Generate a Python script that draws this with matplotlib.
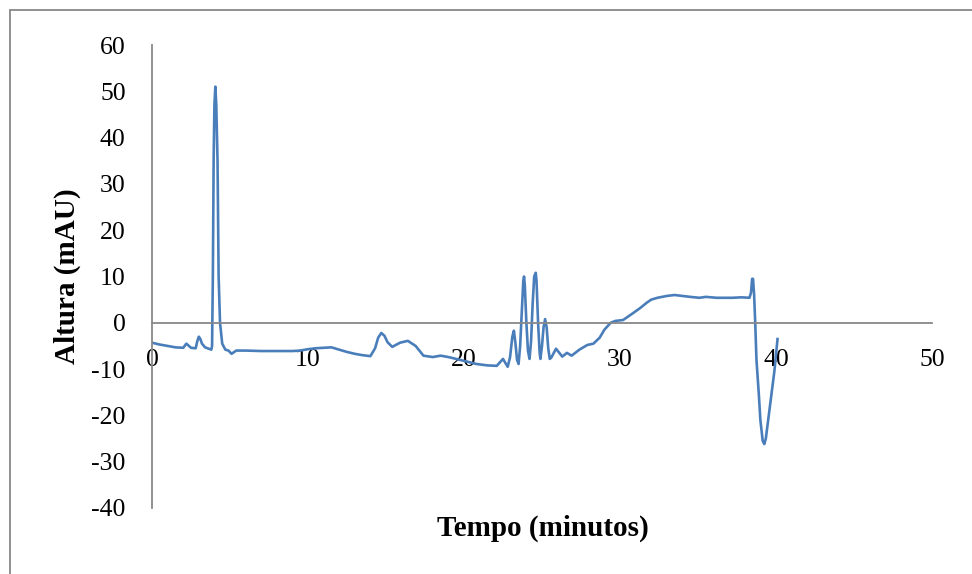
import matplotlib.pyplot as plt
from matplotlib.patches import Rectangle

# chromatogram trace
tempo = [0.0, 0.5, 1.0, 1.5, 2.0, 2.2, 2.5, 2.8, 2.9, 3.0, 3.1, 3.2, 3.4, 3.8, 3.85, 3.9, 3.95,
         4.0, 4.06, 4.12, 4.2, 4.27, 4.36, 4.5, 4.7, 4.9, 5.1, 5.4, 6.0,
         7.0, 8.0, 9.0, 9.5, 10.0, 10.5, 11.0, 11.5, 12.0, 12.5, 13.0, 13.5, 14.0,
         14.3, 14.5, 14.7, 14.9, 15.1, 15.4, 15.9, 16.4, 16.9, 17.4, 18.0, 18.5, 19.0, 19.5,
         20.2, 20.8, 21.5, 22.1, 22.5, 22.8, 22.95, 23.1, 23.2, 23.3, 23.4, 23.5,
         23.6, 23.7, 23.8, 23.85, 23.9, 24.0, 24.1, 24.2,
         24.3, 24.4, 24.5, 24.6, 24.65, 24.75, 24.85, 24.9,
         25.0, 25.1, 25.2, 25.3, 25.4, 25.5, 25.6, 25.9, 26.3,
         26.6, 26.9, 27.4, 27.9, 28.3, 28.7, 29.0, 29.4, 29.7, 30.2, 30.8, 31.3,
         31.7, 32.0, 32.4, 33.0, 33.5, 34.0, 34.5, 35.1, 35.5, 36.2, 37.2, 37.8,
         38.3, 38.4, 38.47, 38.53, 38.6, 38.67, 38.75, 38.9, 39.0, 39.15, 39.25, 39.35,
         39.6, 39.9, 40.1]
altura = [-4.3, -4.7, -5.0, -5.3, -5.4, -4.5, -5.4, -5.5, -4.0, -3.0, -3.5, -4.5, -5.3, -5.8, -5.0, 10.0, 35.0,
          47.0, 51.0, 47.0, 35.0, 10.0, 0.0, -4.5, -5.8, -6.0, -6.7, -6.0, -6.0,
          -6.1, -6.1, -6.1, -6.0, -5.7, -5.5, -5.4, -5.3, -5.8, -6.3, -6.7, -7.0, -7.2,
          -5.5, -3.2, -2.2, -2.8, -4.2, -5.2, -4.3, -3.9, -5.0, -7.1, -7.4, -7.1, -7.4, -7.8,
          -8.4, -8.9, -9.2, -9.3, -7.8, -9.5, -7.5, -3.0, -1.7, -4.5, -8.0, -8.9,
          -5.0, 2.0, 9.0, 10.0, 8.0, 0.0, -6.0, -7.8,
          -4.0, 4.0, 10.0, 10.8, 9.0, 0.0, -6.5, -7.8,
          -5.0, -1.0, 0.8, -1.0, -5.5, -7.8, -7.5, -5.6, -7.3,
          -6.5, -7.1, -5.8, -4.8, -4.5, -3.2, -1.5, 0.0, 0.4, 0.6, 2.0, 3.2,
          4.3, 5.0, 5.4, 5.8, 6.0, 5.8, 5.6, 5.4, 5.6, 5.4, 5.4, 5.5,
          5.4, 6.5, 9.5, 9.5, 6.0, 0.0, -8.0, -15.4, -21.0, -25.5, -26.2, -25.0,
          -18.4, -10.4, -3.5]

x_ticks = [0, 10, 20, 30, 40, 50]
y_ticks = [-40, -30, -20, -10, 0, 10, 20, 30, 40, 50, 60]

plt.rcParams['font.family'] = ['Liberation Serif', 'DejaVu Serif']
plt.rcParams['axes.unicode_minus'] = False

fig = plt.figure(figsize=(9.72, 5.74), dpi=100)
ax = fig.add_axes([0.1564, 0.115, 0.8024, 0.8066])

ax.plot(tempo, altura, color="#4A7EBB", linewidth=1.9)

ax.set_xlim(0, 50)
ax.set_ylim(-40, 60)
ax.set_xticks(x_ticks)
ax.set_yticks(y_ticks)

for side in ["top", "right"]:
    ax.spines[side].set_visible(False)
ax.spines["bottom"].set_position(("data", 0))
ax.spines["left"].set_position(("data", 0))
for side in ["bottom", "left"]:
    ax.spines[side].set_color("#888888")
    ax.spines[side].set_linewidth(1.3)

ax.tick_params(axis="x", length=0, pad=19, labelsize=18.5)
ax.tick_params(axis="y", length=0, pad=19, labelsize=18.5)

fig.text(0.069, 0.519, "Altura (mAU)", rotation=90, ha="center", va="center",
         fontsize=21, fontweight="bold")
fig.text(0.558, 0.080, "Tempo (minutos)", ha="center", va="center",
         fontsize=21, fontweight="bold")

# outer chart frame (cut off at right and bottom in the reference)
fig.add_artist(Rectangle((10 / 972, -0.02), 1.1, 1 - 10 / 574 + 0.02,
                         transform=fig.transFigure, fill=False,
                         edgecolor="#888888", linewidth=1.3))

fig.savefig("out.png", dpi=100)
